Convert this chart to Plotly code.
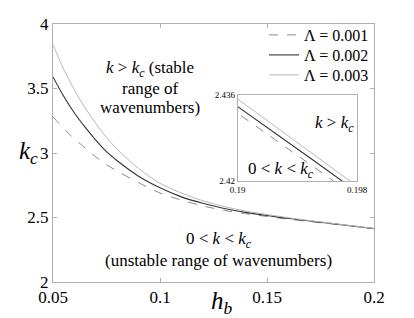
import plotly.graph_objects as go

# data
h_b = [0.05, 0.055, 0.06, 0.065, 0.07, 0.075, 0.08, 0.09, 0.10, 0.11, 0.12,
       0.13, 0.14, 0.15, 0.16, 0.17, 0.18, 0.19, 0.195, 0.20]
kc_L001 = [3.28, 3.19, 3.11, 3.04, 2.97, 2.91, 2.86, 2.77, 2.69, 2.635, 2.59,
           2.555, 2.53, 2.508, 2.487, 2.468, 2.4505, 2.4326, 2.4228, 2.413]
kc_L002 = [3.59, 3.44, 3.31, 3.20, 3.10, 3.01, 2.94, 2.82, 2.73, 2.66, 2.61,
           2.57, 2.54, 2.515, 2.493, 2.473, 2.4535, 2.4339, 2.424, 2.414]
kc_L003 = [3.84, 3.65, 3.49, 3.35, 3.23, 3.12, 3.03, 2.88, 2.765, 2.69, 2.63,
           2.585, 2.55, 2.523, 2.498, 2.476, 2.4555, 2.4352, 2.4252, 2.415]
names = ["Λ = 0.001", "Λ = 0.002", "Λ = 0.003"]
x_ticks = [0.05, 0.1, 0.15, 0.2]
y_ticks = [2, 2.5, 3, 3.5, 4]
inset_x = [0.19, 0.198]
inset_y = [2.42, 2.436]

FONT = "Liberation Serif"
W, H = 414, 318
ML, MR, MT, MB = 53, 40, 24, 36
styles = [dict(color="#8a8a8a", width=1, dash="dash"),
          dict(color="#333333", width=1.1, dash="solid"),
          dict(color="#b8b8b8", width=1, dash="solid")]
series = [kc_L001, kc_L002, kc_L003]
legend_ids = ["legend", "legend2", "legend3"]
legend_rows = [35, 55, 75]

pw = W - ML - MR
ph = H - MT - MB


def px_x(px):
    return (px - ML) / pw


def px_y(py):
    return (H - MB - py) / ph


fig = go.Figure()
for nm, ys, st, lg in zip(names, series, styles, legend_ids):
    fig.add_trace(go.Scatter(x=h_b, y=ys, mode="lines", name=nm, legend=lg,
                             line=dict(shape="spline", **st), xaxis="x", yaxis="y"))
for nm, ys, st in zip(names, series, styles):
    fig.add_trace(go.Scatter(x=h_b, y=ys, mode="lines", name=nm, showlegend=False,
                             line=st, xaxis="x2", yaxis="y2"))

axcommon = dict(showgrid=False, zeroline=False, showline=True, linecolor="#b0b0b0",
                linewidth=1, mirror="ticks", ticks="inside", tickcolor="#b0b0b0",
                ticklen=4)
fig.update_layout(
    width=W, height=H,
    margin=dict(l=ML, r=MR, t=MT, b=MB, autoexpand=False),
    plot_bgcolor="white", paper_bgcolor="white",
    font=dict(family=FONT, size=17, color="black"),
    xaxis=dict(range=[0.05, 0.2], tickvals=x_ticks, ticktext=[str(v) for v in x_ticks],
               domain=[0, 1], **axcommon),
    yaxis=dict(range=[2, 4], tickvals=y_ticks, ticktext=[str(v) for v in y_ticks],
               domain=[0, 1], **axcommon),
    xaxis2=dict(range=inset_x, tickvals=inset_x, ticktext=[str(v) for v in inset_x],
                domain=[px_x(237.7), px_x(357)], anchor="y2",
                tickfont=dict(size=9), **{**axcommon, "ticklen": 0}),
    yaxis2=dict(range=inset_y, tickvals=inset_y, ticktext=[str(v) for v in inset_y],
                domain=[px_y(181), px_y(95)], anchor="x2",
                tickfont=dict(size=9), **{**axcommon, "ticklen": 0}),
    showlegend=True,
)
for lg, row in zip(legend_ids, legend_rows):
    fig.update_layout({lg: dict(x=px_x(374), xanchor="right", y=px_y(row), yanchor="middle",
                                bgcolor="rgba(0,0,0,0)", font=dict(size=16), itemwidth=30,
                                borderwidth=0)})

ann = [
    dict(text="<i>k</i> > <i>k<sub>c</sub></i> (stable", x=150, y=69, size=17),
    dict(text="range of", x=150, y=88, size=17),
    dict(text="wavenumbers)", x=150, y=107, size=17),
    dict(text="0 < <i>k</i> < <i>k<sub>c</sub></i>", x=219, y=240, size=17),
    dict(text="(unstable range of wavenumbers)", x=219, y=260, size=17),
    dict(text="<i>k</i> > <i>k<sub>c</sub></i>", x=334, y=124, size=17),
    dict(text="0 < <i>k</i> < <i>k<sub>c</sub></i>", x=281, y=170, size=17),
    dict(text="<i>k<sub>c</sub></i>", x=28, y=152, size=25),
    dict(text="<i>h<sub>b</sub></i>", x=222, y=302, size=25),
]
for a in ann:
    fig.add_annotation(text=a["text"], x=px_x(a["x"]), y=px_y(a["y"]),
                       xref="paper", yref="paper", xanchor="center", yanchor="middle",
                       showarrow=False, font=dict(family=FONT, size=a["size"], color="black"))

fig.write_html("out.html", config={"displayModeBar": False},
               post_script="document.body.style.margin='0';")
